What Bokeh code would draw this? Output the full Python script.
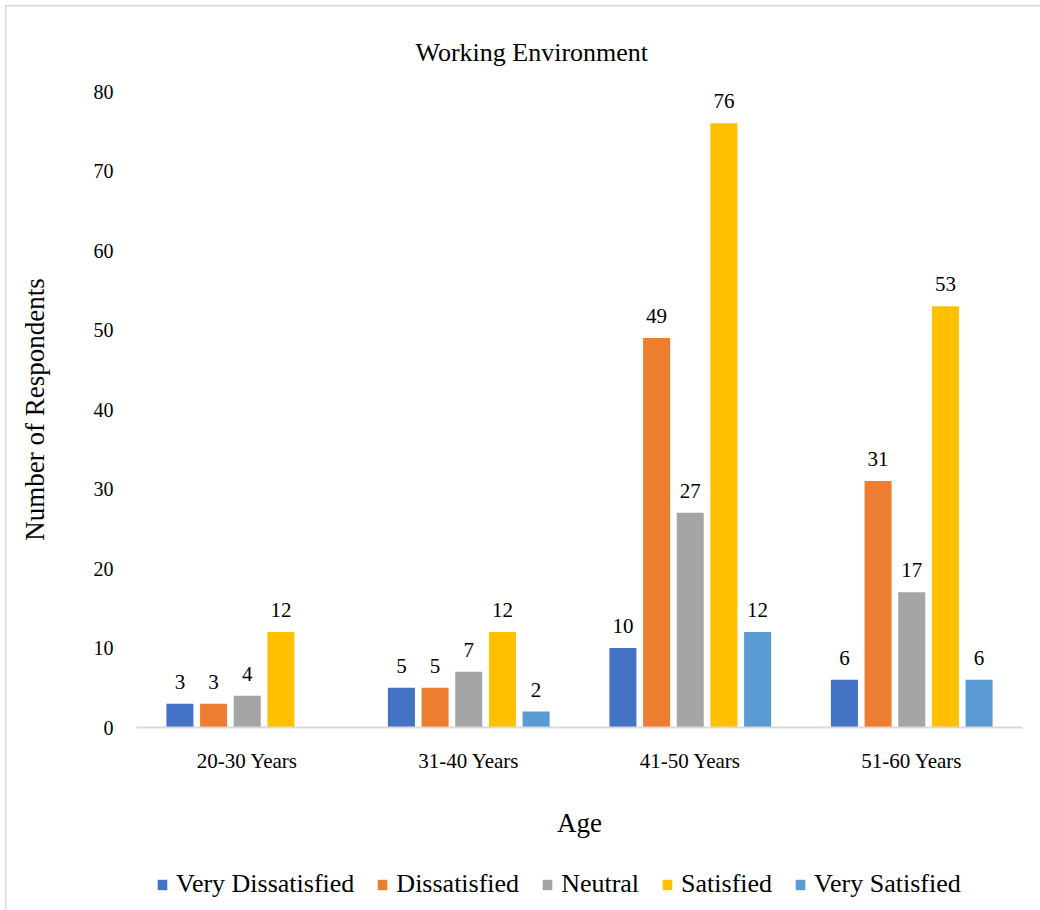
import numpy as np
from bokeh.plotting import figure
from bokeh.layouts import column
from bokeh.models import (ColumnDataSource, Range1d, LabelSet, Legend, LegendItem,
                          SingleIntervalTicker, InlineStyleSheet)
from bokeh.transform import dodge
from bokeh.embed import file_html
from bokeh.resources import INLINE

ages = ["20-30 Years", "31-40 Years", "41-50 Years", "51-60 Years"]
series_names = ["Very Dissatisfied", "Dissatisfied", "Neutral", "Satisfied", "Very Satisfied"]
very_dissatisfied = [3, 5, 10, 6]
dissatisfied = [3, 5, 49, 31]
neutral = [4, 7, 27, 17]
satisfied = [12, 12, 76, 53]
very_satisfied = [None, 2, 12, 6]
colors = ["#4472C4", "#ED7D31", "#A5A5A5", "#FFC000", "#5B9BD5"]

all_series = [very_dissatisfied, dissatisfied, neutral, satisfied, very_satisfied]

FONT = "Liberation Serif"

p = figure(x_range=ages, y_range=Range1d(0, 80), width=1040, height=850,
           min_border_left=136, min_border_right=18, min_border_top=91, min_border_bottom=123,
           output_backend="svg", toolbar_location=None)

p.xgrid.grid_line_color = None
p.ygrid.grid_line_color = None
p.outline_line_color = None
p.background_fill_color = "white"
p.border_fill_alpha = 0

serif_css = InlineStyleSheet(css="* { font-family: 'Liberation Serif', serif !important; }")

# legend strip (same series, bars kept out of its visible range)
p2 = figure(x_range=ages, y_range=Range1d(1000, 1001), width=1040, height=60,
            min_border_left=0, min_border_right=0, min_border_top=0, min_border_bottom=0,
            x_axis_type=None, y_axis_type=None,
            output_backend="svg", toolbar_location=None, stylesheets=[serif_css])
p2.outline_line_color = None
p2.background_fill_alpha = 0
p2.border_fill_alpha = 0

bar_w = 0.122
step = 0.152
items = []
for i, (name, vals, col) in enumerate(zip(series_names, all_series, colors)):
    v = [np.nan if x is None else x for x in vals]
    lab = ["" if x is None else str(x) for x in vals]
    src = ColumnDataSource(dict(age=ages, value=v, label=lab))
    off = (i - 2) * step
    p.vbar(x=dodge("age", off, range=p.x_range), top="value", width=bar_w,
           source=src, fill_color=col, line_color=None)
    r2 = p2.vbar(x=dodge("age", off, range=p2.x_range), top="value", width=bar_w,
                 source=src, fill_color=col, line_color=None)
    items.append(LegendItem(label=name, renderers=[r2]))
    ls = LabelSet(x=dodge("age", off, range=p.x_range), y="value", text="label", source=src,
                  text_align="center", text_baseline="middle", y_offset=22,
                  text_font=FONT, text_font_size="21px", text_color="black")
    p.add_layout(ls)

# axes
p.yaxis.ticker = SingleIntervalTicker(interval=10)
p.yaxis.axis_line_color = None
p.yaxis.major_tick_line_color = None
p.yaxis.minor_tick_line_color = None
p.yaxis.major_label_text_font = FONT
p.yaxis.major_label_text_font_size = "20px"
p.yaxis.major_label_text_color = "black"
p.yaxis.major_label_standoff = 17
p.yaxis.axis_label = "Number of Respondents"
p.yaxis.axis_label_text_font = FONT
p.yaxis.axis_label_text_font_size = "27px"
p.yaxis.axis_label_text_font_style = "normal"
p.yaxis.axis_label_text_color = "black"
p.yaxis.axis_label_standoff = 41

p.xaxis.axis_line_color = "#D9D9D9"
p.xaxis.axis_line_width = 2
p.xaxis.major_tick_line_color = None
p.xaxis.minor_tick_line_color = None
p.xaxis.major_label_text_font = FONT
p.xaxis.major_label_text_font_size = "21px"
p.xaxis.major_label_text_color = "black"
p.xaxis.major_label_standoff = 15
p.xaxis.axis_label = "Age"
p.xaxis.axis_label_text_font = FONT
p.xaxis.axis_label_text_font_size = "27px"
p.xaxis.axis_label_text_font_style = "normal"
p.xaxis.axis_label_text_color = "black"
p.xaxis.axis_label_standoff = 32

# title
p.title.text = "Working Environment"
p.title.text_font = FONT
p.title.text_font_size = "26px"
p.title.text_font_style = "normal"
p.title.text_color = "black"
p.title.align = "left"
p.title.offset = 279
p.title.standoff = 49

legend = Legend(items=items, orientation="horizontal", location=(20, 11),
                glyph_width=12, glyph_height=13, label_standoff=8, spacing=22,
                label_text_font="serif", label_text_font_size="26px", label_text_color="black",
                label_text_font_style="normal",
                border_line_color=None, background_fill_alpha=0, padding=4, margin=0)
p2.add_layout(legend)

layout = column(p, p2, spacing=0, styles={
    "background": ("linear-gradient(#D9D9D9, #D9D9D9) 5px 5px / 1.5px 100% no-repeat, "
                   "linear-gradient(#D9D9D9, #D9D9D9) 5px 5px / 100% 1.5px no-repeat, white")})

open("out.html", "w").write(file_html(layout, INLINE))
